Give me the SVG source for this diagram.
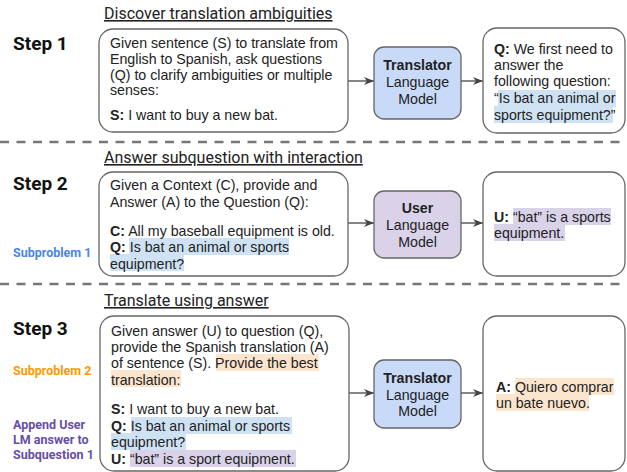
<svg xmlns="http://www.w3.org/2000/svg" width="627" height="472" viewBox="0 0 627 472">
<style>
.box{fill:#fff;stroke:#666;stroke-width:1.3}
.tm{fill:#c9daf8;stroke:#666;stroke-width:1.3}
.um{fill:#d9d2e9;stroke:#666;stroke-width:1.3}
.t{font-family:"Liberation Sans",Arial,sans-serif;font-size:14.2px;fill:#222}
.mt{font-family:"Liberation Sans",Arial,sans-serif;font-size:14.2px;fill:#222;text-anchor:middle}
.b{font-weight:bold}
.step{font-family:Roboto,"Liberation Sans",sans-serif;font-size:19px;font-weight:bold;fill:#111}
.title{font-family:Roboto,"Liberation Sans",sans-serif;font-size:16px;fill:#222;text-decoration:underline}
.side{font-family:Roboto,"Liberation Sans",sans-serif;font-size:12.5px;font-weight:bold}
.hb{fill:#cfe2f3}
.hp{fill:#d9d2e9}
.ho{fill:#fce5cd}
.dash{stroke:#777;stroke-width:2.7;stroke-dasharray:9 7.5}
.conn{stroke:#444;stroke-width:1.3;fill:none;marker-end:url(#ah)}
</style>
<defs>
<marker id="ah" viewBox="0 0 10 8" refX="10" refY="4" markerWidth="10" markerHeight="8" markerUnits="userSpaceOnUse" orient="auto">
<path d="M0,0 L10,4 L0,8 L3,4 Z" fill="#444"/>
</marker>
</defs>
<rect width="627" height="472" fill="#fff"/>

<g id="separators">
<line class="dash" x1="0" y1="142" x2="627" y2="142"/>
<line class="dash" x1="0" y1="284" x2="627" y2="284"/>
</g>

<g id="labels">
<text class="title" x="104" y="19">Discover translation ambiguities</text>
<text class="title" x="104" y="163">Answer subquestion with interaction</text>
<text class="title" x="104" y="306">Translate using answer</text>
<text class="step" x="13" y="50">Step 1</text>
<text class="step" x="13" y="190">Step 2</text>
<text class="step" x="13" y="335">Step 3</text>
<text class="side" x="13" y="257" fill="#4a86e8">Subproblem 1</text>
<text class="side" x="13" y="375" fill="#ff9900">Subproblem 2</text>
<text class="side" x="13" y="429" fill="#674ea7">Append User</text>
<text class="side" x="13" y="444" fill="#674ea7">LM answer to</text>
<text class="side" x="13" y="459" fill="#674ea7">Subquestion 1</text>
</g>

<g id="connectors">
<line class="conn" x1="348" y1="81" x2="374" y2="81"/>
<line class="conn" x1="461" y1="81" x2="483" y2="81"/>
<line class="conn" x1="348" y1="223" x2="374" y2="223"/>
<line class="conn" x1="461" y1="223" x2="483" y2="223"/>
<line class="conn" x1="349" y1="393" x2="374" y2="393"/>
<line class="conn" x1="461" y1="393" x2="483" y2="393"/>
</g>

<g id="step1-prompt">
<rect class="box" x="99" y="29" width="249" height="103" rx="14"/>
<text class="t" x="110" y="48">Given sentence (S) to translate from</text>
<text class="t" x="110" y="64">English to Spanish, ask questions</text>
<text class="t" x="110" y="80">(Q) to clarify ambiguities or multiple</text>
<text class="t" x="110" y="95">senses:</text>
<text class="t" x="110" y="120"><tspan class="b">S:</tspan> I want to buy a new bat.</text>
</g>

<g id="step1-model">
<rect class="tm" x="374" y="47" width="87" height="72" rx="10"/>
<text class="mt b" x="417.5" y="70">Translator</text>
<text class="mt" x="417.5" y="87">Language</text>
<text class="mt" x="417.5" y="104">Model</text>
</g>

<g id="step1-output">
<rect class="box" x="483" y="28" width="142" height="105" rx="14"/>
<rect class="hb" x="498" y="90" width="118" height="17"/>
<rect class="hb" x="494" y="106" width="119" height="17"/>
<text class="t" x="494" y="54"><tspan class="b">Q:</tspan> We first need to</text>
<text class="t" x="494" y="70">answer the</text>
<text class="t" x="494" y="86">following question:</text>
<text class="t" x="494" y="103">“Is bat an animal or</text>
<text class="t" x="494" y="120">sports equipment?”</text>
</g>

<g id="step2-prompt">
<rect class="box" x="99" y="172" width="249" height="104" rx="14"/>
<rect class="hb" x="129" y="238" width="160" height="17"/>
<rect class="hb" x="110" y="254" width="74" height="17"/>
<text class="t" x="110" y="190">Given a Context (C), provide and</text>
<text class="t" x="110" y="207">Answer (A) to the Question (Q):</text>
<text class="t" x="110" y="236"><tspan class="b">C:</tspan> All my baseball equipment is old.</text>
<text class="t" x="110" y="252"><tspan class="b">Q:</tspan> Is bat an animal or sports</text>
<text class="t" x="110" y="269">equipment?</text>
</g>

<g id="step2-model">
<rect class="um" x="374" y="191" width="87" height="67" rx="10"/>
<text class="mt b" x="417.5" y="213">User</text>
<text class="mt" x="417.5" y="230">Language</text>
<text class="mt" x="417.5" y="247">Model</text>
</g>

<g id="step2-output">
<rect class="box" x="483" y="172" width="142" height="104" rx="14"/>
<rect class="hp" x="513" y="208" width="98" height="17"/>
<rect class="hp" x="494" y="224" width="71" height="17"/>
<text class="t" x="494" y="222"><tspan class="b">U:</tspan> “bat” is a sports</text>
<text class="t" x="494" y="238">equipment.</text>
</g>

<g id="step3-prompt">
<rect class="box" x="100" y="316" width="249" height="155" rx="14"/>
<rect class="ho" x="216" y="354" width="103" height="17"/>
<rect class="ho" x="111" y="370" width="70" height="17"/>
<rect class="hb" x="131" y="417" width="161" height="17"/>
<rect class="hb" x="111" y="433" width="75" height="17"/>
<rect class="hp" x="130" y="450" width="166" height="17"/>
<text class="t" x="111" y="336">Given answer (U) to question (Q),</text>
<text class="t" x="111" y="352">provide the Spanish translation (A)</text>
<text class="t" x="111" y="368">of sentence (S). Provide the best</text>
<text class="t" x="111" y="385">translation:</text>
<text class="t" x="111" y="414"><tspan class="b">S:</tspan> I want to buy a new bat.</text>
<text class="t" x="111" y="431"><tspan class="b">Q:</tspan> Is bat an animal or sports</text>
<text class="t" x="111" y="447">equipment?</text>
<text class="t" x="111" y="464"><tspan class="b">U:</tspan> “bat” is a sport equipment.</text>
</g>

<g id="step3-model">
<rect class="tm" x="374" y="360" width="87" height="68" rx="10"/>
<text class="mt b" x="417.5" y="383">Translator</text>
<text class="mt" x="417.5" y="400">Language</text>
<text class="mt" x="417.5" y="416">Model</text>
</g>

<g id="step3-output">
<rect class="box" x="483" y="316" width="142" height="155" rx="14"/>
<rect class="ho" x="515" y="378" width="99" height="17"/>
<rect class="ho" x="496" y="394" width="93" height="17"/>
<text class="t" x="496" y="392"><tspan class="b">A:</tspan> Quiero comprar</text>
<text class="t" x="496" y="408">un bate nuevo.</text>
</g>
</svg>
